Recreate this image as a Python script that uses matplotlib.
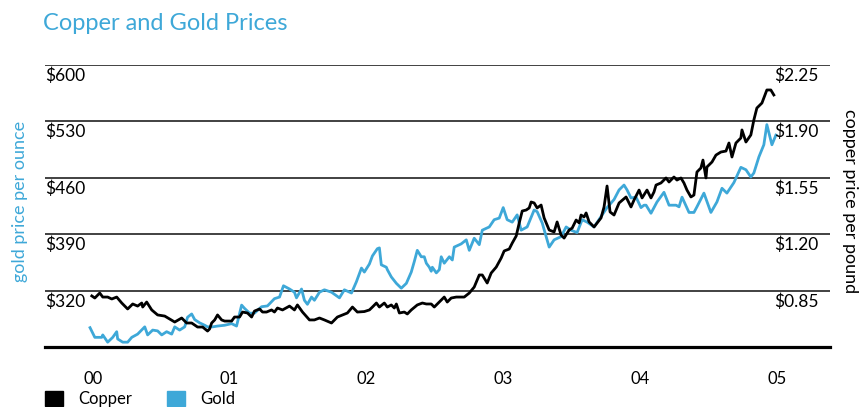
import matplotlib
matplotlib.use("Agg")
import matplotlib.pyplot as plt
from matplotlib.patches import Patch
from matplotlib.transforms import blended_transform_factory

plt.rcParams['font.family'] = ['Lato', 'DejaVu Sans']

# years since 2000 (decimal) and prices
gold_t = [-0.02, 0.015, 0.066, 0.073, 0.109, 0.146, 0.175, 0.182, 0.219, 0.255, 0.285, 0.328,
          0.380, 0.401, 0.438, 0.474, 0.504, 0.540, 0.577, 0.599, 0.635, 0.672, 0.693, 0.723,
          0.745, 0.781, 0.818, 0.839, 0.876, 0.912, 0.964, 1.015, 1.051, 1.088, 1.109, 1.146,
          1.182, 1.234, 1.277, 1.328, 1.365, 1.394, 1.438, 1.474, 1.489, 1.526, 1.547, 1.569,
          1.599, 1.620, 1.657, 1.693, 1.745, 1.803, 1.839, 1.891, 1.927, 1.964, 1.985, 2.022,
          2.044, 2.080, 2.095, 2.109, 2.146, 2.153, 2.182, 2.219, 2.255, 2.292, 2.328, 2.350,
          2.372, 2.401, 2.423, 2.438, 2.460, 2.474, 2.482, 2.511, 2.533, 2.547, 2.569, 2.606,
          2.628, 2.642, 2.693, 2.730, 2.752, 2.788, 2.825, 2.847, 2.898, 2.934, 2.971, 3.000,
          3.029, 3.066, 3.102, 3.131, 3.175, 3.226, 3.248, 3.285, 3.336, 3.372, 3.423, 3.460,
          3.496, 3.540, 3.577, 3.613, 3.664, 3.715, 3.759, 3.810, 3.847, 3.883, 3.905, 3.934,
          3.971, 4.007, 4.029, 4.044, 4.080, 4.124, 4.175, 4.212, 4.263, 4.285, 4.307, 4.358,
          4.394, 4.416, 4.467, 4.518, 4.562, 4.599, 4.635, 4.686, 4.737, 4.774, 4.810, 4.832,
          4.869, 4.905, 4.927, 4.964, 4.993]
gold = [274, 262, 262, 265, 256, 262, 269, 260, 256, 256, 262, 266,
        275, 265, 271, 270, 265, 269, 266, 275, 271, 275, 287, 291,
        284, 280, 277, 275, 275, 276, 277, 279, 276, 302, 298, 292,
        292, 300, 301, 310, 312, 326, 322, 318, 311, 322, 308, 303,
        312, 308, 318, 321, 318, 311, 321, 317, 331, 348, 343, 353,
        363, 372, 373, 352, 349, 346, 337, 329, 323, 329, 343, 356,
        370, 362, 362, 354, 349, 344, 349, 342, 346, 362, 354, 362,
        358, 374, 378, 383, 370, 385, 377, 395, 399, 408, 410, 423,
        408, 405, 414, 395, 399, 420, 418, 404, 374, 383, 387, 399,
        395, 392, 408, 405, 399, 412, 423, 433, 445, 451, 445, 435,
        436, 423, 426, 426, 416, 430, 442, 426, 426, 424, 436, 417,
        417, 424, 441, 417, 430, 447, 441, 454, 473, 470, 461, 466,
        486, 501, 526, 501, 513]

copper_t = [-0.007, 0.015, 0.051, 0.073, 0.109, 0.139, 0.175, 0.212, 0.255, 0.292, 0.328, 0.358,
            0.365, 0.394, 0.431, 0.474, 0.526, 0.562, 0.599, 0.650, 0.686, 0.723, 0.766, 0.803,
            0.839, 0.854, 0.869, 0.891, 0.912, 0.942, 0.964, 1.015, 1.036, 1.073, 1.095, 1.131,
            1.161, 1.182, 1.219, 1.241, 1.270, 1.307, 1.328, 1.350, 1.387, 1.438, 1.474, 1.496,
            1.533, 1.584, 1.620, 1.657, 1.693, 1.745, 1.788, 1.825, 1.861, 1.898, 1.934, 1.985,
            2.022, 2.044, 2.073, 2.095, 2.131, 2.153, 2.182, 2.204, 2.219, 2.241, 2.277, 2.299,
            2.328, 2.372, 2.409, 2.438, 2.474, 2.496, 2.533, 2.569, 2.591, 2.620, 2.657, 2.679,
            2.715, 2.752, 2.788, 2.825, 2.847, 2.883, 2.912, 2.949, 2.985, 3.007, 3.044, 3.066,
            3.095, 3.117, 3.139, 3.168, 3.190, 3.204, 3.226, 3.248, 3.277, 3.299, 3.336, 3.372,
            3.394, 3.423, 3.445, 3.482, 3.504, 3.533, 3.555, 3.569, 3.591, 3.606, 3.628, 3.664,
            3.715, 3.737, 3.759, 3.781, 3.810, 3.847, 3.898, 3.934, 3.956, 3.993, 4.015, 4.051,
            4.080, 4.102, 4.117, 4.153, 4.190, 4.212, 4.248, 4.270, 4.299, 4.321, 4.343, 4.372,
            4.394, 4.416, 4.445, 4.460, 4.482, 4.489, 4.526, 4.555, 4.591, 4.628, 4.650, 4.672,
            4.701, 4.737, 4.745, 4.774, 4.810, 4.832, 4.854, 4.891, 4.927, 4.956, 4.978]
copper = [0.817, 0.804, 0.835, 0.810, 0.810, 0.798, 0.810, 0.773, 0.736, 0.767, 0.754, 0.773,
          0.748, 0.779, 0.730, 0.699, 0.692, 0.674, 0.655, 0.680, 0.649, 0.649, 0.624, 0.624,
          0.599, 0.612, 0.649, 0.668, 0.699, 0.668, 0.661, 0.661, 0.686, 0.686, 0.717, 0.711,
          0.686, 0.723, 0.736, 0.717, 0.717, 0.730, 0.717, 0.742, 0.730, 0.754, 0.730, 0.761,
          0.717, 0.668, 0.668, 0.680, 0.668, 0.649, 0.686, 0.699, 0.711, 0.748, 0.717, 0.720,
          0.730, 0.748, 0.773, 0.748, 0.773, 0.748, 0.761, 0.742, 0.767, 0.711, 0.717, 0.705,
          0.730, 0.761, 0.773, 0.767, 0.767, 0.748, 0.779, 0.810, 0.779, 0.804, 0.810, 0.810,
          0.810, 0.835, 0.872, 0.947, 0.947, 0.897, 0.959, 0.996, 1.052, 1.096, 1.108, 1.145,
          1.189, 1.270, 1.344, 1.350, 1.363, 1.400, 1.394, 1.363, 1.381, 1.301, 1.226, 1.214,
          1.276, 1.195, 1.176, 1.226, 1.238, 1.288, 1.270, 1.319, 1.307, 1.332, 1.276, 1.245,
          1.301, 1.369, 1.499, 1.338, 1.319, 1.394, 1.431, 1.369, 1.412, 1.474, 1.425, 1.474,
          1.425, 1.462, 1.505, 1.518, 1.549, 1.524, 1.555, 1.536, 1.549, 1.518, 1.474, 1.431,
          1.443, 1.586, 1.611, 1.660, 1.549, 1.617, 1.648, 1.691, 1.710, 1.716, 1.766, 1.679,
          1.766, 1.797, 1.847, 1.772, 1.816, 1.909, 1.983, 2.014, 2.095, 2.095, 2.064]

gold_ticks = [320, 390, 460, 530, 600]
copper_ticks = [0.85, 1.20, 1.55, 1.90, 2.25]
year_labels = ['00', '01', '02', '03', '04', '05']

BLUE = '#3ea8d8'

fig = plt.figure(figsize=(8.63, 4.07), dpi=100)
ax = fig.add_axes([0.052, 0.1474, 0.910, 0.6929])
ax2 = ax.twinx()

ax.set_xlim(-0.35, 5.39)
ax.set_ylim(250, 600)
ax2.set_ylim(0.50, 2.25)

for v in gold_ticks:
    ax.axhline(v, color='#333333', lw=1.3, zorder=1)

ax.plot(gold_t, gold, color=BLUE, lw=2.0, zorder=3)
ax2.plot(copper_t, copper, color='black', lw=2.0, zorder=3)

for a in (ax, ax2):
    for s in ['top', 'left', 'right']:
        a.spines[s].set_visible(False)
    a.set_yticks([])
ax.spines['bottom'].set_linewidth(2.3)
ax2.spines['bottom'].set_visible(False)

ax.set_xticks(range(6))
ax.set_xticklabels(year_labels, fontsize=12)
ax.tick_params(axis='x', length=0, pad=17)

tr = blended_transform_factory(ax.transAxes, ax.transData)
for v in gold_ticks:
    ax.text(0.0, v - 3, '$%d' % v, transform=tr, ha='left', va='top', fontsize=12.5)
tr2 = blended_transform_factory(ax2.transAxes, ax2.transData)
for v in copper_ticks:
    ax2.text(0.985, v - 0.015, '$%.2f' % v, transform=tr2, ha='right', va='top', fontsize=12.5)

fig.text(0.023, 0.505, 'gold price per ounce', color=BLUE, rotation=90,
         ha='center', va='center', fontsize=13)
fig.text(0.985, 0.505, 'copper price per pound', color='black', rotation=270,
         ha='center', va='center', fontsize=13)

fig.text(0.05, 0.943, 'Copper and Gold Prices', color=BLUE, ha='left', va='center', fontsize=17)

handles = [Patch(color='black', label='Copper'), Patch(color=BLUE, label='Gold')]
fig.legend(handles=handles, loc='center left', bbox_to_anchor=(0.052, 0.02), ncol=2,
           frameon=False, fontsize=12, handlelength=1.1, handleheight=1.0,
           columnspacing=2.1, handletextpad=0.9, borderpad=0, borderaxespad=0)

fig.savefig('out.png', dpi=100)
